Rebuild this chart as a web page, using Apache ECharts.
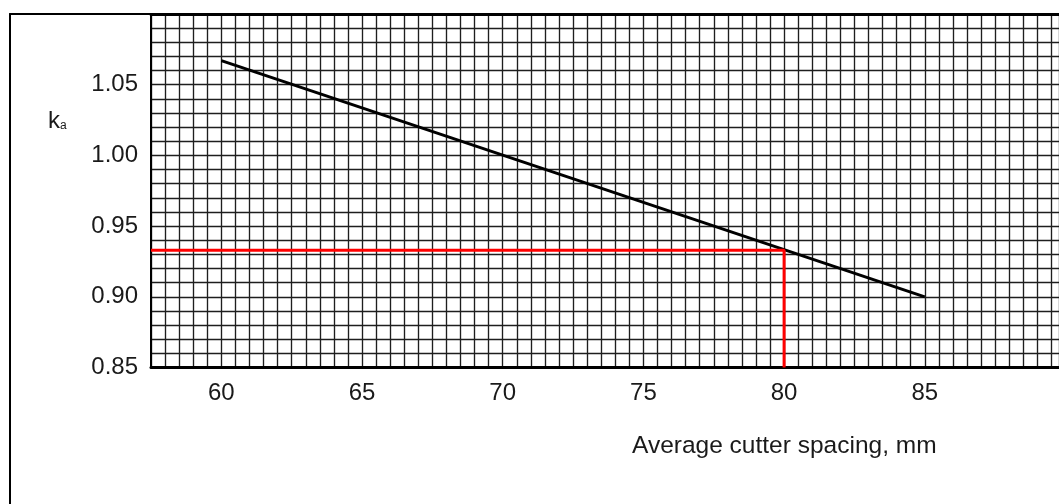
<!DOCTYPE html>
<html>
<head>
<meta charset="utf-8">
<script src="https://cdn.jsdelivr.net/npm/echarts@6/dist/echarts.min.js"></script>
<style>
html,body{margin:0;padding:0;background:#fff;}
#c{width:1059px;height:504px;}
</style>
</head>
<body>
<div id="c"></div>
<script>
// ---- data ----
const xTickLabels = [60, 65, 70, 75, 80, 85];
const yTickLabels = [0.85, 0.90, 0.95, 1.00, 1.05];
const curveX = [60, 85];
const curveY = [1.067, 0.900];
const readX = [57.5, 80, 80];
const readY = [0.933, 0.933, 0.85];
const xTitle = 'Average cutter spacing, mm';
const yTitleMain = 'k';
const yTitleSub = 'a';

const FONT = 'Liberation Sans, Arial, sans-serif';
const near = (a, b) => Math.abs(a - b) < 1e-6;

const chart = echarts.init(document.getElementById('c'), null, {renderer: 'canvas'});
chart.setOption({
  backgroundColor: '#fff',
  animation: false,
  title: [
    {text: xTitle, left: 627, top: 429,
     textStyle: {fontFamily: FONT, fontSize: 24.5, fontWeight: 'normal', color: '#1a1a1a'}},
    {text: '{k|' + yTitleMain + '}{a|' + yTitleSub + '}', left: 43, top: 104,
     textStyle: {fontWeight: 'normal', rich: {
       k: {fontFamily: FONT, fontSize: 24, fontWeight: 'normal', color: '#1a1a1a'},
       a: {fontFamily: FONT, fontSize: 12, fontWeight: 'normal', color: '#1a1a1a', padding: [10, 0, 0, 0]}
     }}}
  ],
  grid: [
    {left: 151, top: 14, right: 0, bottom: 136.5, show: false, z: 2, outerBoundsMode: 'none', containLabel: false},
    {left: 10, top: 14, right: 0, bottom: 0, show: false, z: 0, outerBoundsMode: 'none', containLabel: false}
  ],
  xAxis: [
    {type: 'value', gridIndex: 0, min: 57.5, max: 89.77, interval: 0.5,
     axisLine: {show: true, onZero: false, lineStyle: {color: '#000', width: 3}},
     axisTick: {show: false},
     splitLine: {show: true, lineStyle: {color: '#1e1e1e', width: 1.35}},
     axisLabel: {margin: 14, fontFamily: FONT, fontSize: 24, color: '#1a1a1a', showMinLabel: true, showMaxLabel: true,
       formatter: v => xTickLabels.some(t => near(t, v)) ? String(Math.round(v)) : ''}},
    {type: 'value', gridIndex: 0, position: 'top', min: 57.5, max: 89.77,
     axisLine: {show: true, onZero: false, lineStyle: {color: '#000', width: 3}},
     axisTick: {show: false}, axisLabel: {show: false}, splitLine: {show: false}},
    {type: 'value', gridIndex: 1, position: 'top', min: 0, max: 1,
     axisLine: {show: true, onZero: false, lineStyle: {color: '#000', width: 2}},
     axisTick: {show: false}, axisLabel: {show: false}, splitLine: {show: false}}
  ],
  yAxis: [
    {type: 'value', gridIndex: 0, min: 0.85, max: 1.10, interval: 0.01,
     axisLine: {show: true, onZero: false, lineStyle: {color: '#000', width: 2}},
     axisTick: {show: false},
     splitLine: {show: true, lineStyle: {color: '#1e1e1e', width: 1.35}},
     axisLabel: {margin: 13, padding: [4, 0, 0, 0], fontFamily: FONT, fontSize: 24, color: '#1a1a1a', showMinLabel: true, showMaxLabel: true,
       formatter: v => yTickLabels.some(t => near(t, v)) ? v.toFixed(2) : ''}},
    {type: 'value', gridIndex: 1, position: 'left', min: 0, max: 1,
     axisLine: {show: true, onZero: false, lineStyle: {color: '#000', width: 2}},
     axisTick: {show: false}, axisLabel: {show: false}, splitLine: {show: false}}
  ],
  series: [
    {type: 'line', xAxisIndex: 0, yAxisIndex: 0, symbol: 'none', z: 5,
     lineStyle: {color: '#000', width: 3},
     data: curveX.map((x, i) => [x, curveY[i]])},
    {type: 'line', xAxisIndex: 0, yAxisIndex: 0, symbol: 'none', z: 6,
     lineStyle: {color: '#ff0000', width: 3},
     data: readX.map((x, i) => [x, readY[i]])}
  ]
});
</script>
</body>
</html>
